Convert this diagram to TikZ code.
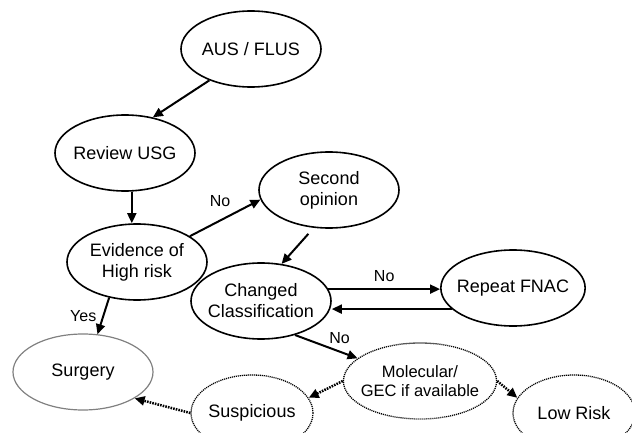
\documentclass[tikz,border=0pt]{standalone}
\usepackage{fontspec}
\setmainfont{Liberation Sans}
\usetikzlibrary{shapes.geometric,arrows.meta}

\begin{document}
\begin{tikzpicture}[x=1pt,y=-1pt,
        every node/.style={font=\fontsize{18}{21}\selectfont},
        box/.style={ellipse,draw,line width=1.6pt,minimum width=140pt,minimum height=76pt,inner xsep=-5pt,inner ysep=0pt,align=center},
        dotbox/.style={box,line width=1.3pt,dash pattern=on 1.1pt off 0.9pt},
        lbl/.style={font=\fontsize{16}{19}\selectfont,inner sep=2pt},
        arr/.style={line width=2pt,-{Triangle[length=10pt,width=9pt]}},
        dotarr/.style={line width=2.5pt,dash pattern=on 1.6pt off 1.1pt,-{Triangle[length=10pt,width=9pt]}}]
        \clip (0,0) rectangle (632,433);
        \node[box] (aus) at (251,49) {AUS / FLUS};
        \node[box] (review) at (125,153) {Review USG};
        \node[box] (evidence) at (137,262) {Evidence of\\High risk};
        \node[box] (second) at (329,190) {Second\\opinion};
        \node[box] (changed) at (261,301) {Changed\\Classification};
        \node[box] (fnac) at (513,288) {Repeat FNAC};
        \node[box,draw=gray,line width=1.2pt] (surgery) at (83,372) {Surgery};
        \node[dotbox,font=\fontsize{16.5}{19.5}\selectfont] (molecular) at (420,381) {Molecular/\\GEC if available};
        \node[dotbox,minimum width=122pt] (suspicious) at (252,413) {Suspicious};
        \node[dotbox,minimum width=122pt] (lowrisk) at (574,413) {Low Risk};

        \draw[arr] (aus.217) -- (review.52);
        \draw[arr] (review.-80) -- (review.-80 |- evidence.north);
        \draw[arr] (evidence.26) -- node[lbl,above=8pt,xshift=-5pt] {No} (second.188);
        \draw[arr,shorten <=8pt] (second.248) -- (changed.61);
        \draw[arr] (changed.10) -- node[lbl,above=4pt] {No} (changed.10 -| fnac.west);
        \draw[arr] (fnac.199) -- (fnac.199 -| changed.east);
        \draw[arr] (changed.-45) -- node[lbl,above right] {No} (molecular.160);
        \draw[arr] (evidence.232) -- node[lbl,left=4pt] {Yes} (surgery.69);
        \draw[dotarr] (molecular.west) -- (suspicious.15);
        \draw[dotarr] (molecular.east) -- (lowrisk.165);
        \draw[dotarr] (suspicious.west) -- (surgery.-27);
\end{tikzpicture}
\end{document}
